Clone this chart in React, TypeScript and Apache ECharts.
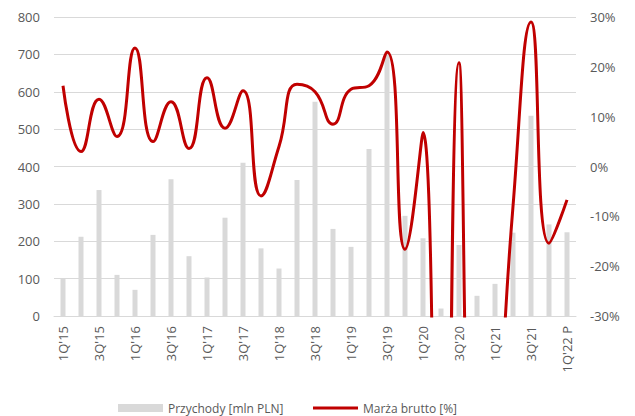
import React, { useEffect, useRef } from "react";
import * as echarts from "echarts";

const categories = [
  "1Q'15", "2Q'15", "3Q'15", "4Q'15",
  "1Q'16", "2Q'16", "3Q'16", "4Q'16",
  "1Q'17", "2Q'17", "3Q'17", "4Q'17",
  "1Q'18", "2Q'18", "3Q'18", "4Q'18",
  "1Q'19", "2Q'19", "3Q'19", "4Q'19",
  "1Q'20", "2Q'20", "3Q'20", "4Q'20",
  "1Q'21", "2Q'21", "3Q'21", "4Q'21",
  "1Q'22 P",
];

const revenue = [
  100, 212, 337, 110, 70, 217, 366, 160, 103, 263, 410, 181, 127, 364, 573,
  233, 185, 447, 705, 268, 208, 20, 190, 54, 86, 223, 536, 245, 224,
];

const grossMargin = [
  16.2, 3.0, 13.5, 6.0, 23.8, 5.0, 13.0, 3.6, 17.8, 7.7, 15.2, -5.9, 4.0,
  16.5, 15.0, 8.5, 15.5, 16.2, 23.0, -16.6, 6.8, -210, 20.8, -90, -60, -8.0,
  29.0, -15.4, -6.7,
];

const leftTicks = { min: 0, max: 800, interval: 100 };
const rightTicks = { min: -30, max: 30, interval: 10 };

const FONT = "'Open Sans', sans-serif";
const LABEL = "#595959";
const BAR_NAME = "Przychody [mln PLN]";
const LINE_NAME = "Marża brutto [%]";

export default function App() {
  const ref = useRef<HTMLDivElement>(null);
  useEffect(() => {
    if (!ref.current) return;
    const chart = echarts.init(ref.current, undefined, { renderer: "svg" });
    const legendText = { color: LABEL, fontSize: 12, fontFamily: FONT, lineHeight: 16 };
    chart.setOption({
      animation: false,
      textStyle: { fontFamily: FONT },
      grid: { left: 54, right: 59, top: 17, bottom: 100, containLabel: false },
      legend: [
        {
          left: 118,
          top: 400,
          padding: 0,
          itemWidth: 45,
          itemHeight: 8,
          textStyle: legendText,
          data: [{ name: BAR_NAME, icon: "rect" }],
        },
        {
          left: 313,
          top: 400,
          padding: 0,
          itemWidth: 45,
          itemHeight: 3,
          textStyle: legendText,
          data: [{ name: LINE_NAME, icon: "rect" }],
        },
      ],
      xAxis: {
        type: "category",
        data: categories,
        axisLine: { lineStyle: { color: "#D9D9D9", width: 1 } },
        axisTick: { show: false },
        axisLabel: {
          interval: 1,
          rotate: 90,
          color: LABEL,
          fontSize: 13,
          margin: 10,
          fontFamily: FONT,
        },
      },
      yAxis: [
        {
          type: "value",
          ...leftTicks,
          axisLine: { show: false },
          axisTick: { show: false },
          splitLine: { lineStyle: { color: "#D9D9D9", width: 1 } },
          axisLabel: { color: LABEL, fontSize: 13, margin: 14, fontFamily: FONT },
        },
        {
          type: "value",
          ...rightTicks,
          axisLine: { show: false },
          axisTick: { show: false },
          splitLine: { show: false },
          axisLabel: {
            color: LABEL,
            fontSize: 13,
            margin: 14,
            fontFamily: FONT,
            formatter: "{value}%",
          },
        },
      ],
      series: [
        {
          name: BAR_NAME,
          type: "bar",
          data: revenue,
          barWidth: 5,
          itemStyle: { color: "#D9D9D9" },
          yAxisIndex: 0,
        },
        {
          name: LINE_NAME,
          type: "line",
          data: grossMargin,
          yAxisIndex: 1,
          smooth: 0.5,
          symbol: "none",
          clip: true,
          lineStyle: { color: "#C00000", width: 3 },
          itemStyle: { color: "#C00000" },
        },
      ],
    });
    return () => chart.dispose();
  }, []);
  return <div ref={ref} style={{ width: 635, height: 416, position: "absolute", left: 0, top: 0 }} />;
}
